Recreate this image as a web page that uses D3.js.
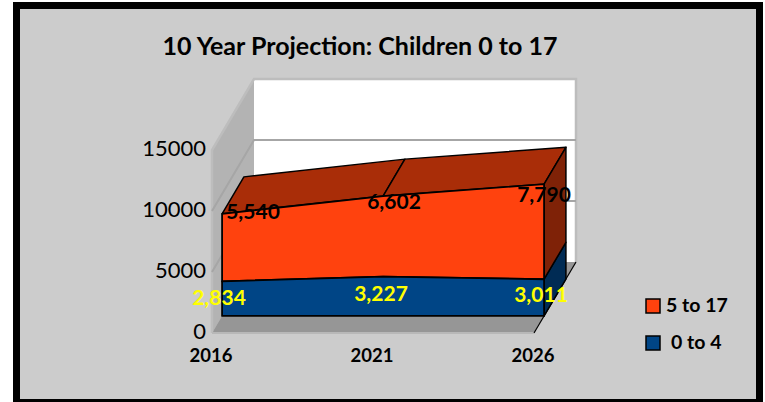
<!DOCTYPE html>
<html>
<head>
<meta charset="utf-8">
<script src="https://cdn.jsdelivr.net/npm/d3@7"></script>
<style>
html, body { margin: 0; background: #fff; }
svg { display: block; }
text { font-family: Lato, "Open Sans", sans-serif; }
</style>
</head>
<body>
<svg id="chart" width="765" height="402"></svg>
<script>
var years = ["2016", "2021", "2026"];
var under5 = [2834, 3227, 3011];
var age5to17 = [5540, 6602, 7790];
var yTicks = [0, 5000, 10000, 15000];
var titleText = "10 Year Projection: Children 0 to 17";

var svg = d3.select("#chart");

// floor front edge runs 212..534, walls rise from y 333 and depth pushes up and right
var x = d3.scalePoint().domain(years).range([212, 534]);
var y = d3.scaleLinear().domain([0, 15000]).range([333, 150]);
var depthX = d3.scaleLinear().domain([0, 1]).range([0, 42]);
var depthY = d3.scaleLinear().domain([0, 1]).range([0, -71]);

var ribbonFront = 0.24;
var ribbonBack = 0.76;

function px(year, depth) { return x(year) + depthX(depth); }
function py(value, depth) { return y(value) + depthY(depth); }
function pt(year, value, depth) { return [px(year, depth), py(value, depth)]; }

function poly(points, fill, stroke, width) {
    return svg.append("polygon")
        .attr("points", points.map(function(p) { return p.join(","); }).join(" "))
        .attr("fill", fill)
        .attr("stroke", stroke || "none")
        .attr("stroke-width", width || 0)
        .attr("stroke-linejoin", "round");
}

var first = years[0];
var last = years[years.length - 1];
var yMax = 15000;

// frame, bottom edge runs off the page
svg.append("rect")
    .attr("x", 16.5).attr("y", 5.5)
    .attr("width", 743).attr("height", 397)
    .attr("fill", "#cccccc")
    .attr("stroke", "#000")
    .attr("stroke-width", 7);

// walls and floor
poly([pt(first, 0, 1), pt(last, 0, 1), pt(last, yMax, 1), pt(first, yMax, 1)], "#ffffff");
poly([pt(first, 0, 0), pt(first, 0, 1), pt(first, yMax, 1), pt(first, yMax, 0)], "#b3b3b3");
poly([pt(first, 0, 0), pt(last, 0, 0), pt(last, 0, 1), pt(first, 0, 1)], "#969696");

// wall edges
svg.append("path")
    .attr("d", d3.line()([pt(first, 0, 0), pt(first, yMax, 0), pt(first, yMax, 1), pt(last, yMax, 1), pt(last, 0, 1)]))
    .attr("fill", "none").attr("stroke", "#bdbdbd").attr("stroke-width", 2.5);
svg.append("path")
    .attr("d", d3.line()([pt(first, 0, 0), pt(last, 0, 0)]))
    .attr("fill", "none").attr("stroke", "#b8b8b8").attr("stroke-width", 2);

// gridlines
yTicks.slice(1, 3).forEach(function(t) {
    svg.append("path")
        .attr("d", d3.line()([pt(first, t, 0), pt(first, t, 1), pt(last, t, 1)]))
        .attr("fill", "none").attr("stroke", "#a6a6a6").attr("stroke-width", 2);
});

svg.append("line")
    .attr("x1", px(last, 0)).attr("y1", py(0, 0))
    .attr("x2", px(last, 1)).attr("y2", py(0, 1))
    .attr("stroke", "#000").attr("stroke-width", 1.2);

// stacked ribbons
var totals = years.map(function(yr, i) { return under5[i] + age5to17[i]; });
var line = function(values, depth) {
    return years.map(function(yr, i) { return pt(yr, values[i], depth); });
};
var zeros = years.map(function() { return 0; });

var stroke = "#000";
var frontBlue = line(under5, ribbonFront);
var frontTop = line(totals, ribbonFront);
var backTop = line(totals, ribbonBack);

// top of the orange ribbon, one panel per year step
d3.range(years.length - 1).forEach(function(i) {
    poly([frontTop[i], frontTop[i + 1], backTop[i + 1], backTop[i]], "#a92d08", stroke, 1.5);
});

// right side caps
poly([pt(last, 0, ribbonFront), pt(last, 0, ribbonBack), pt(last, under5[2], ribbonBack), pt(last, under5[2], ribbonFront)], "#002b54", stroke, 1.5);
poly([pt(last, under5[2], ribbonFront), pt(last, under5[2], ribbonBack), pt(last, totals[2], ribbonBack), pt(last, totals[2], ribbonFront)], "#7f2207", stroke, 1.5);

// front faces
poly(frontBlue.concat(frontTop.slice().reverse()), "#ff420e", stroke, 1.8);
poly(line(zeros, ribbonFront).concat(frontBlue.slice().reverse()), "#004586", stroke, 1.8);

// y axis
var axisScale = y.copy().range([331, 148]);
var yAxis = svg.append("g")
    .attr("transform", "translate(206,0)")
    .call(d3.axisLeft(axisScale).tickValues(yTicks).tickSize(0).tickPadding(0).tickFormat(d3.format("d")));
yAxis.select(".domain").remove();
yAxis.selectAll("text")
    .attr("font-size", 22)
    .attr("font-family", "Lato, sans-serif")
    .attr("fill", "#000");

// category labels
svg.selectAll(".cat").data(years).enter().append("text")
    .attr("class", "cat")
    .attr("x", function(d) { return x(d) - 1; })
    .attr("y", 362)
    .attr("text-anchor", "middle")
    .attr("font-size", 18.5)
    .attr("font-weight", 700)
    .text(function(d) { return d; });

// data labels
var fmt = d3.format(",");
svg.selectAll(".lab-top").data(age5to17).enter().append("text")
    .attr("class", "lab-top")
    .attr("x", function(d, i) { return x(years[i]) + [41, 21, 10][i]; })
    .attr("y", function(d, i) { return [219, 209, 202][i]; })
    .attr("text-anchor", "middle")
    .attr("font-size", 21)
    .attr("font-weight", 700)
    .attr("fill", "#000")
    .text(fmt);

svg.selectAll(".lab-bot").data(under5).enter().append("text")
    .attr("class", "lab-bot")
    .attr("x", function(d, i) { return x(years[i]) + [7, 8, 7][i]; })
    .attr("y", function(d, i) { return [305, 301, 302][i]; })
    .attr("text-anchor", "middle")
    .attr("font-size", 21)
    .attr("font-weight", 700)
    .attr("fill", "#ffff00")
    .text(fmt);

// title
svg.append("text")
    .attr("x", 360).attr("y", 55)
    .attr("text-anchor", "middle")
    .attr("font-size", 25)
    .attr("font-weight", 700)
    .text(titleText);

// legend
var legendItems = [
    { label: "5 to 17", color: "#ff420e", lx: 666, ly: 306 },
    { label: "0 to 4", color: "#004586", lx: 671, ly: 343 }
];
var legend = svg.selectAll(".legend").data(legendItems).enter().append("g").attr("class", "legend");
legend.append("rect")
    .attr("x", 646)
    .attr("y", function(d) { return d.ly - 7; })
    .attr("width", 14).attr("height", 14)
    .attr("fill", function(d) { return d.color; })
    .attr("stroke", "#000").attr("stroke-width", 1.5);
legend.append("text")
    .attr("x", function(d) { return d.lx; })
    .attr("y", function(d) { return d.ly + 6; })
    .attr("font-size", 19.5)
    .attr("font-weight", 700)
    .text(function(d) { return d.label; });
</script>
</body>
</html>
